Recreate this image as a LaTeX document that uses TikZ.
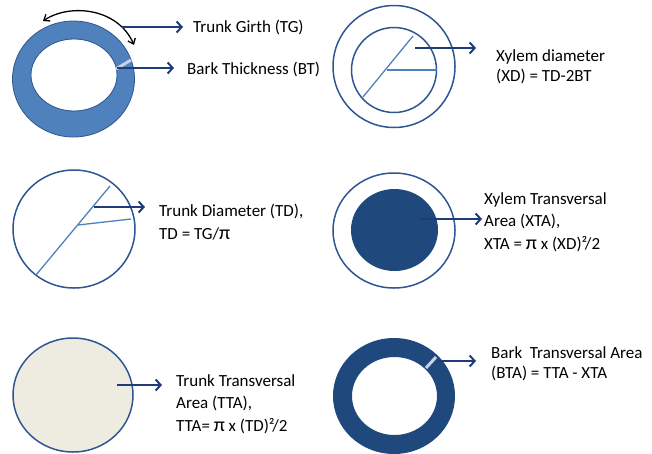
\documentclass[tikz,border=0pt]{standalone}
\usepackage{fontspec}
\setmainfont{Carlito}
\usetikzlibrary{arrows.meta}
\definecolor{navy}{HTML}{1F3B78}
\definecolor{rim}{HTML}{2F5690}
\definecolor{midblue}{HTML}{4F81BD}
\definecolor{darkblue}{HTML}{1F497D}
\definecolor{beige}{HTML}{EEECE1}
\definecolor{tick}{HTML}{C6D3E6}
\newcommand{\bigpi}{{\fontsize{20}{22}\selectfont π}}
\tikzset{
  pointer/.style={draw=navy, line width=2pt, -{Straight Barb[length=5pt,width=11pt,line width=2pt]}},
  rimline/.style={draw=rim, line width=1.5pt},
  radius line/.style={draw=midblue, line width=1.3pt},
  label text/.style={anchor=west, inner sep=0pt, align=left, font=\fontsize{17}{22.5}\selectfont},
  label two/.style={label text, font=\fontsize{17}{20}\selectfont},
}
\begin{document}
\begin{tikzpicture}[x=1pt,y=-1pt]
\useasboundingbox (0,0) rectangle (652,453);

% --- trunk girth and bark thickness ---
\fill[midblue, even odd rule, draw=rim, line width=0.8pt]
  (73.5,79) ellipse [x radius=61, y radius=58]
  (74,75) ellipse [x radius=43, y radius=36];
\draw[tick, line width=3pt] (116,69) -- (131,60);
\draw[black, line width=1.3pt, {Straight Barb[length=5pt,width=8pt]}-{Straight Barb[length=5pt,width=8pt]}]
  (43,21) .. controls (70,3) and (118,8) .. (134,45);
\coordinate (tg0) at (122,27);
\coordinate (tg1) at (183,27);
\coordinate (bt0) at (117,68);
\coordinate (bt1) at (174,68);
\draw[pointer] (tg0) -- (tg1);
\draw[pointer] (bt0) -- (bt1);
\node[label text] (tg) at (193,27) {Trunk Girth (TG)};
\node[label text] (bt) at (187,69) {Bark Thickness (BT)};

% --- xylem diameter ---
\draw[rimline] (394,66.5) circle [radius=61];
\draw[rimline] (394,70) circle [radius=42.5];
\draw[radius line] (363,97) -- (413,36);
\draw[radius line] (387,70) -- (436.5,70);
\coordinate (xd0) at (415,48);
\coordinate (xd1) at (476,48);
\draw[pointer] (xd0) -- (xd1);
\node[label two] (xd) at (496,67) {Xylem diameter\\(XD) = TD-2BT};

% --- trunk diameter ---
\draw[rimline] (74,229) ellipse [x radius=61, y radius=59];
\draw[radius line] (36,275) -- (110,186);
\draw[radius line] (78,225) -- (131,219);
\coordinate (td0) at (94,207);
\coordinate (td1) at (145,207);
\draw[pointer] (td0) -- (td1);
\node[label text] (td) at (159,222) {Trunk Diameter (TD),\\TD = TG/\bigpi};

% --- xylem transversal area ---
\draw[rimline] (394,230.5) ellipse [x radius=61, y radius=57.5];
\fill[darkblue] (394.5,230) ellipse [x radius=43.5, y radius=41];
\coordinate (xta0) at (420,219);
\coordinate (xta1) at (482,219);
\draw[pointer] (xta0) -- (xta1);
\node[label text] (xta) at (484,222) {Xylem Transversal\\Area (XTA),\\XTA = \bigpi\ x (XD)²/2};

% --- trunk transversal area ---
\filldraw[fill=beige, draw=rim, line width=1.5pt] (73,395) ellipse [x radius=60, y radius=57];
\coordinate (tta0) at (117,385);
\coordinate (tta1) at (162,385);
\draw[pointer] (tta0) -- (tta1);
\node[label text] (tta) at (176,404) {Trunk Transversal\\Area (TTA),\\TTA= \bigpi\ x (TD)²/2};

% --- bark transversal area ---
\fill[darkblue, even odd rule]
  (394,396) ellipse [x radius=61, y radius=58]
  (394.5,396) ellipse [x radius=42.5, y radius=39];
\draw[tick, line width=3pt] (426,368) -- (436,357);
\coordinate (bta0) at (437,361);
\coordinate (bta1) at (476,361);
\draw[pointer] (bta0) -- (bta1);
\node[label two] (bta) at (491,364) {Bark\ \ Transversal Area\\(BTA) = TTA - XTA};
\end{tikzpicture}
\end{document}
